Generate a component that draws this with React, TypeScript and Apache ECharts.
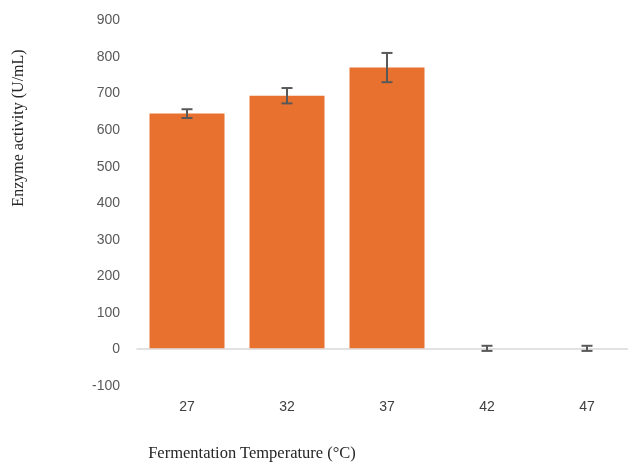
import React, { useEffect, useRef } from "react";
import * as echarts from "echarts";

const categories = ["27", "32", "37", "42", "47"];
const values = [642, 691, 768, 0, 0];
const errors = [12, 21, 40, 7, 7];
const yTicks = { min: -100, max: 900, interval: 100 };

export default function App() {
  const ref = useRef<HTMLDivElement>(null);
  useEffect(() => {
    const chart = echarts.init(ref.current!, null, { renderer: "svg" });
    const errData = values.map((v, i) => [i, v - errors[i], v + errors[i]]);
    chart.setOption({
      animation: false,
      grid: { left: 137, top: 19.3, width: 500, height: 365.6, containLabel: false, outerBoundsMode: "none" },
      xAxis: [
        {
          type: "category",
          data: categories,
          axisLine: { onZero: true, lineStyle: { color: "#d9d9d9", width: 1.5 } },
          axisTick: { show: false },
          axisLabel: { show: false },
          splitLine: { show: false },
        },
        {
          type: "category",
          data: categories,
          position: "bottom",
          axisLine: { show: false, onZero: false },
          axisTick: { show: false },
          axisLabel: {
            margin: 14,
            color: "#404040",
            fontSize: 14,
            fontFamily: "Liberation Sans, Arial, sans-serif",
          },
          splitLine: { show: false },
        },
      ],
      yAxis: {
        type: "value",
        min: yTicks.min,
        max: yTicks.max,
        interval: yTicks.interval,
        axisLine: { show: false },
        axisTick: { show: false },
        splitLine: { show: false },
        axisLabel: {
          margin: 17,
          color: "#595959",
          fontSize: 14,
          fontFamily: "Liberation Sans, Arial, sans-serif",
        },
      },
      series: [
        {
          type: "bar",
          data: values,
          xAxisIndex: 0,
          barWidth: 75,
          itemStyle: { color: "#E9712F" },
        },
        {
          type: "custom",
          xAxisIndex: 0,
          data: errData,
          z: 10,
          renderItem: (params: any, api: any) => {
            const x = api.coord([api.value(0), 0])[0];
            const lo = api.coord([api.value(0), api.value(1)])[1];
            const hi = api.coord([api.value(0), api.value(2)])[1];
            const hw = 5.5;
            const style = { stroke: "#595959", lineWidth: 2 };
            return {
              type: "group",
              children: [
                { type: "line", shape: { x1: x, y1: lo, x2: x, y2: hi }, style },
                { type: "line", shape: { x1: x - hw, y1: lo, x2: x + hw, y2: lo }, style },
                { type: "line", shape: { x1: x - hw, y1: hi, x2: x + hw, y2: hi }, style },
              ],
            };
          },
        },
      ],
      graphic: [
        {
          type: "text",
          x: 17,
          y: 128,
          rotation: Math.PI / 2,
          style: {
            text: "Enzyme activity (U/mL)",
            fill: "#262626",
            font: "16px 'Liberation Serif', 'Times New Roman', serif",
            align: "center",
            verticalAlign: "middle",
          },
        },
        {
          type: "text",
          x: 252,
          y: 452,
          style: {
            text: "Fermentation Temperature (°C)",
            fill: "#262626",
            font: "16.5px 'Liberation Serif', 'Times New Roman', serif",
            align: "center",
            verticalAlign: "middle",
          },
        },
      ],
    });
    return () => chart.dispose();
  }, []);
  return (
    <div
      ref={ref}
      style={{ position: "fixed", left: 0, top: 0, width: 628, height: 462 }}
    />
  );
}
